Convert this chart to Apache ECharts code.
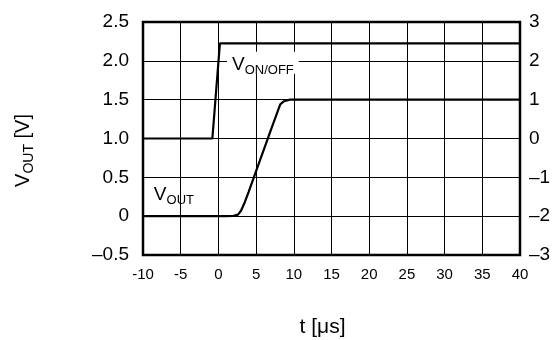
<!DOCTYPE html>
<html>
<head>
<meta charset="utf-8">
<script src="https://cdn.jsdelivr.net/npm/echarts@6/dist/echarts.min.js"></script>
<style>
  html, body { margin: 0; padding: 0; background: #fff; }
  #chart { width: 555px; height: 340px; }
</style>
</head>
<body>
<div id="chart"></div>
<script>
// time axis [us]
const xTicks = [-10, -5, 0, 5, 10, 15, 20, 25, 30, 35, 40];
// left axis labels (V_OUT)
const leftTicks = ["–0.5", "0", "0.5", "1.0", "1.5", "2.0", "2.5"];
// right axis labels (V_ON/OFF)
const rightTicks = ["–3", "–2", "–1", "0", "1", "2", "3"];

// V_OUT trace [t, V]
const vOut = [
  [-10, 0], [1, 0], [2, 0.005], [2.6, 0.02], [3, 0.07], [3.5, 0.18], [4, 0.31],
  [4.7, 0.5], [6, 0.85], [7, 1.12], [8.2, 1.44], [8.7, 1.48],
  [9.5, 1.5], [40, 1.5]
];
// V_ON/OFF trace [t, V]
const vOnOff = [[-10, 0], [-0.8, 0], [0.2, 2.45], [40, 2.45]];

const font = "Liberation Sans, Arial, Helvetica, sans-serif";
const chart = echarts.init(document.getElementById("chart"));

// V with subscript, as rich text
const subRich = (big, small, lh) => ({
  v: { fontFamily: font, fontSize: big, color: "#000", lineHeight: lh, verticalAlign: "bottom" },
  s: { fontFamily: font, fontSize: small, color: "#000", lineHeight: lh, verticalAlign: "bottom", padding: [0, 0, -3, 0] }
});

const option = {
  animation: false,
  grid: {
    left: 143, right: 35, top: 22, bottom: 85,
    outerBoundsMode: "none",
    show: true, borderColor: "#000", borderWidth: 2.5, backgroundColor: "#fff"
  },
  xAxis: {
    type: "value", min: -10, max: 40, interval: 5,
    name: "t [μs]", nameLocation: "middle", nameGap: 62,
    nameTextStyle: { fontFamily: font, fontSize: 21, color: "#000", padding: [0, 18, 0, 0] },
    axisLine: { show: false }, axisTick: { show: false },
    axisLabel: {
      fontFamily: font, fontSize: 15, color: "#000", margin: 12,
      formatter: v => String(xTicks[Math.round((v + 10) / 5)])
    },
    splitLine: { show: true, lineStyle: { color: "#000", width: 1 } }
  },
  yAxis: [
    {
      type: "value", min: -0.5, max: 2.5, interval: 0.5, position: "left",
      name: "{v|V}{s|OUT}{v| [V]}", nameLocation: "middle", nameGap: 110, nameRotate: 90,
      nameTextStyle: { rich: subRich(20, 14, 22), padding: [0, 24, 0, 0] },
      axisLine: { show: false }, axisTick: { show: false },
      axisLabel: {
        fontFamily: font, fontSize: 19, color: "#000", margin: 14,
        formatter: v => leftTicks[Math.round((v + 0.5) / 0.5)]
      },
      splitLine: { show: true, lineStyle: { color: "#000", width: 1 } }
    },
    {
      type: "value", min: -3, max: 3, interval: 1, position: "right",
      axisLine: { show: false }, axisTick: { show: false },
      axisLabel: {
        fontFamily: font, fontSize: 19, color: "#000", margin: 9,
        formatter: v => rightTicks[Math.round(v + 3)]
      },
      splitLine: { show: false }
    }
  ],
  series: [
    {
      name: "VOUT", type: "line", data: vOut, yAxisIndex: 0,
      symbol: "none", lineStyle: { color: "#000", width: 2.2 },
      markPoint: {
        symbol: "rect", symbolSize: 0,
        label: {
          show: true, position: "inside",
          formatter: "{v|V}{s|OUT}",
          rich: subRich(19, 13, 22)
        },
        data: [{ coord: [-5.9, 0.3] }]
      }
    },
    {
      name: "VON/OFF", type: "line", data: vOnOff, yAxisIndex: 1,
      symbol: "none", lineStyle: { color: "#000", width: 2.2 },
      markPoint: {
        symbol: "rect", symbolSize: 0,
        label: {
          show: true, position: "inside",
          backgroundColor: "#fff", padding: [0, 5, 0, 5],
          formatter: "{v|V}{s|ON/OFF}",
          rich: subRich(19, 13, 22)
        },
        data: [{ coord: [5.9, 1.95] }]
      }
    }
  ]
};

chart.setOption(option);
</script>
</body>
</html>
